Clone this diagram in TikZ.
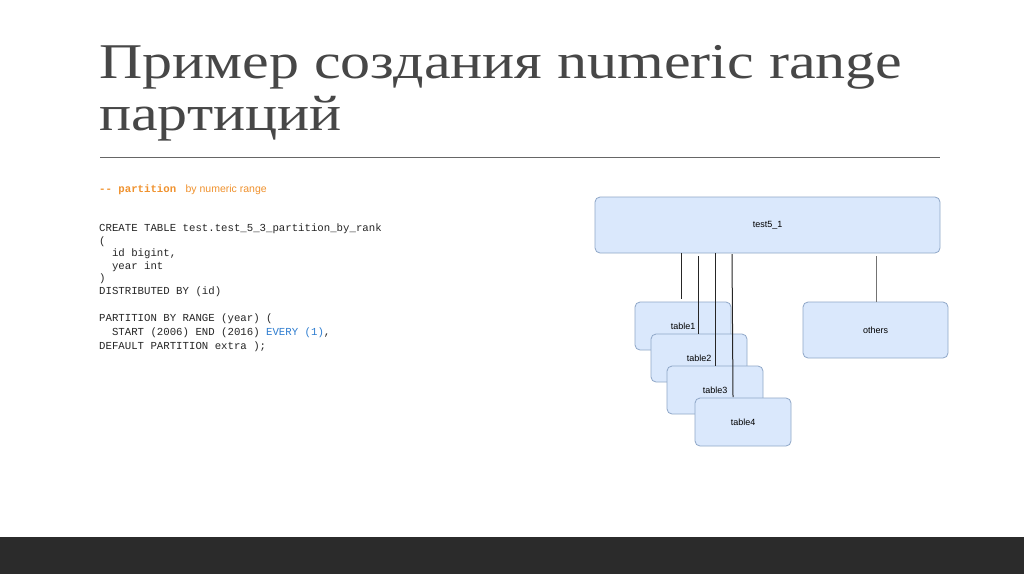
\documentclass[tikz,border=0pt]{standalone}
\usepackage{fontspec}
\setmainfont{Liberation Serif}
\newfontfamily\titlefont[FakeStretch=1.2]{Liberation Serif}
\newfontfamily\codefont{Liberation Mono}
\newfontfamily\sansf{Liberation Sans}
\begin{document}
\begin{tikzpicture}[x=1pt,y=-1pt,
  box/.style={draw=boxedge,fill=boxfill,rounded corners=5pt,line width=0.8pt,font=\sansf\fontsize{9}{10}\selectfont},
  link/.style={draw=black!85,line width=1pt},
  ttl/.style={anchor=base west,inner sep=0,text=black!72,font=\titlefont\fontsize{50}{54}\selectfont},
  code/.style={anchor=base west,inner sep=0,font=\codefont\fontsize{10.7}{12}\selectfont,text=black!85}]
\definecolor{boxfill}{HTML}{DAE8FC}
\definecolor{boxedge}{HTML}{8FA7C8}
\definecolor{orng}{HTML}{F0922E}
\definecolor{codeblue}{HTML}{2E7DD0}
\useasboundingbox (0,0) rectangle (1024,574);
\fill[white] (0,0) rectangle (1024,574);
\fill[black!83] (0,537) rectangle (1024,574);
\node[ttl] (t1) at (99,78) {Пример создания numeric range};
\node[ttl] (t2) at (99,130) {партиций};
\draw[black!60,line width=0.8pt] (100,157) -- (940,157);
\node[code,text=orng] (c0) at (99,192) {\textbf{-- partition} {\sansf\fontsize{10.5}{12}\selectfont\ by numeric range}};
\node[code] (c1) at (99,231) {CREATE TABLE test.test\_5\_3\_partition\_by\_rank};
\node[code] (c2) at (99,244) {(};
\node[code] (c3) at (99,256) {\ \ id bigint,};
\node[code] (c4) at (99,269) {\ \ year int};
\node[code] (c5) at (99,281) {)};
\node[code] (c6) at (99,294) {DISTRIBUTED BY (id)};
\node[code] (c7) at (99,321) {PARTITION BY RANGE (year) (};
\node[code] (c8) at (99,335) {\ \ START (2006) END (2016) \textcolor{codeblue}{EVERY (1)},};
\node[code] (c9) at (99,349) {DEFAULT PARTITION extra );};
\node[box,minimum width=345pt,minimum height=56pt] (root) at (767.5,225) {test5\_1};
\node[box,minimum width=96pt,minimum height=48pt] (tb1) at (683,326) {table1};
\node[box,minimum width=96pt,minimum height=48pt] (tb2) at (699,358) {table2};
\node[box,minimum width=96pt,minimum height=48pt] (tb3) at (715,390) {table3};
\node[box,minimum width=96pt,minimum height=48pt] (tb4) at (743,422) {table4};
\node[box,minimum width=145pt,minimum height=56pt] (oth) at (875.5,330) {others};
\draw[link] (681,253) -- (681,299);
\draw[link] (698,256) -- (698,334);
\draw[link] (715,253) -- (715,366);
\draw[link] (732,254) -- (733,397);
\draw[draw=black!55,line width=1pt] (876,256) -- (876,302);
\end{tikzpicture}
\end{document}
